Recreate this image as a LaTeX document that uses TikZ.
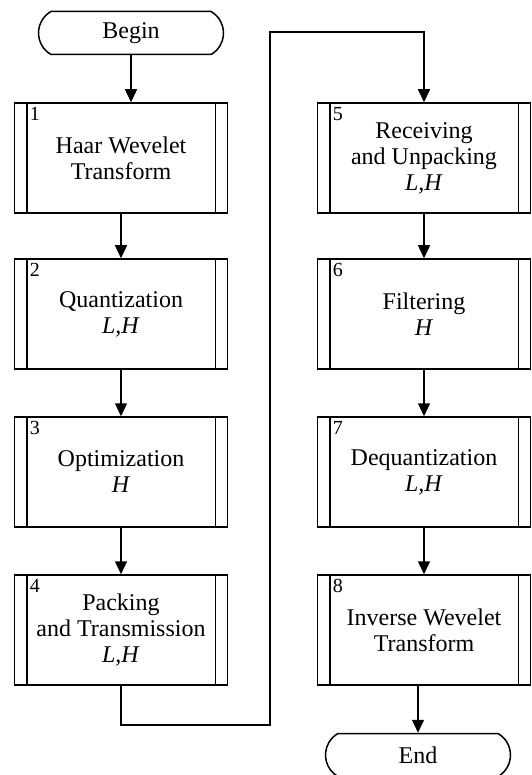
\documentclass[tikz,border=0pt]{standalone}
\usepackage{fontspec}
\setmainfont{Liberation Serif}
\usetikzlibrary{shapes.misc,arrows.meta,calc}

\begin{document}
\begin{tikzpicture}[
      x=1pt, y=-1pt,
      every node/.style={font=\fontsize{24}{26}\selectfont},
      procbox/.style={rectangle, draw=black, line width=1.5pt, fill=white,
                      minimum width=213pt, minimum height=110pt,
                      inner sep=0pt, align=center},
      termbox/.style={rounded rectangle, rounded rectangle arc length=120,
                      draw=black, line width=1.5pt, fill=white,
                      minimum width=185pt, minimum height=43pt, inner sep=0pt},
      numlabel/.style={anchor=north west, inner sep=0pt,
                       font=\fontsize{20}{20}\selectfont},
      arrow/.style={-{Triangle[length=13pt,width=12pt]}, line width=1.5pt},
      link/.style={line width=1.5pt}
    ]
      \useasboundingbox (0,0) rectangle (531,775);
      %% Terminals
      \node[termbox] (begin) at (131,33) {Begin};
      \node[termbox] (end) at (418,755) {End};
      %% Process boxes
      \foreach \i/\xpos/\ypos/\txt in {
          1/121/158/{Haar Wevelet\\Transform},
          2/121/314/{Quantization\\\textit{L,H}},
          3/121/472/{Optimization\\\textit{H}},
          4/121/630/{Packing\\and Transmission\\\textit{L,H}},
          5/424/158/{Receiving\\and Unpacking\\\textit{L,H}},
          6/424/314/{Filtering\\\textit{H}},
          7/424/472/{Dequantization\\\textit{L,H}},
          8/424/630/{Inverse Wevelet\\Transform}}{
        \node[procbox] (b\i) at (\xpos,\ypos) {\txt};
        \draw[link] ([xshift=13pt]b\i.north west) -- ([xshift=13pt]b\i.south west);
        \draw[link] ([xshift=-13pt]b\i.north east) -- ([xshift=-13pt]b\i.south east);
        \node[numlabel] at ([xshift=16pt,yshift=-5pt]b\i.north west) {\i};
      }
      %% Flow
      \draw[arrow] (begin.south) -- (begin.south |- b1.north);
      \foreach \a/\b in {1/2,2/3,3/4,5/6,6/7,7/8}
        \draw[arrow] (b\a) -- (b\b);
      \draw[arrow] (end.north |- b8.south) -- (end.north);
      %% Jump to second column
      \coordinate (turnlow) at (270,725);
      \coordinate (turnhigh) at (270,32);
      \draw[arrow] (b4.south) |- (turnlow) -- (turnhigh) -| (b5.north);
    \end{tikzpicture}
\end{document}
